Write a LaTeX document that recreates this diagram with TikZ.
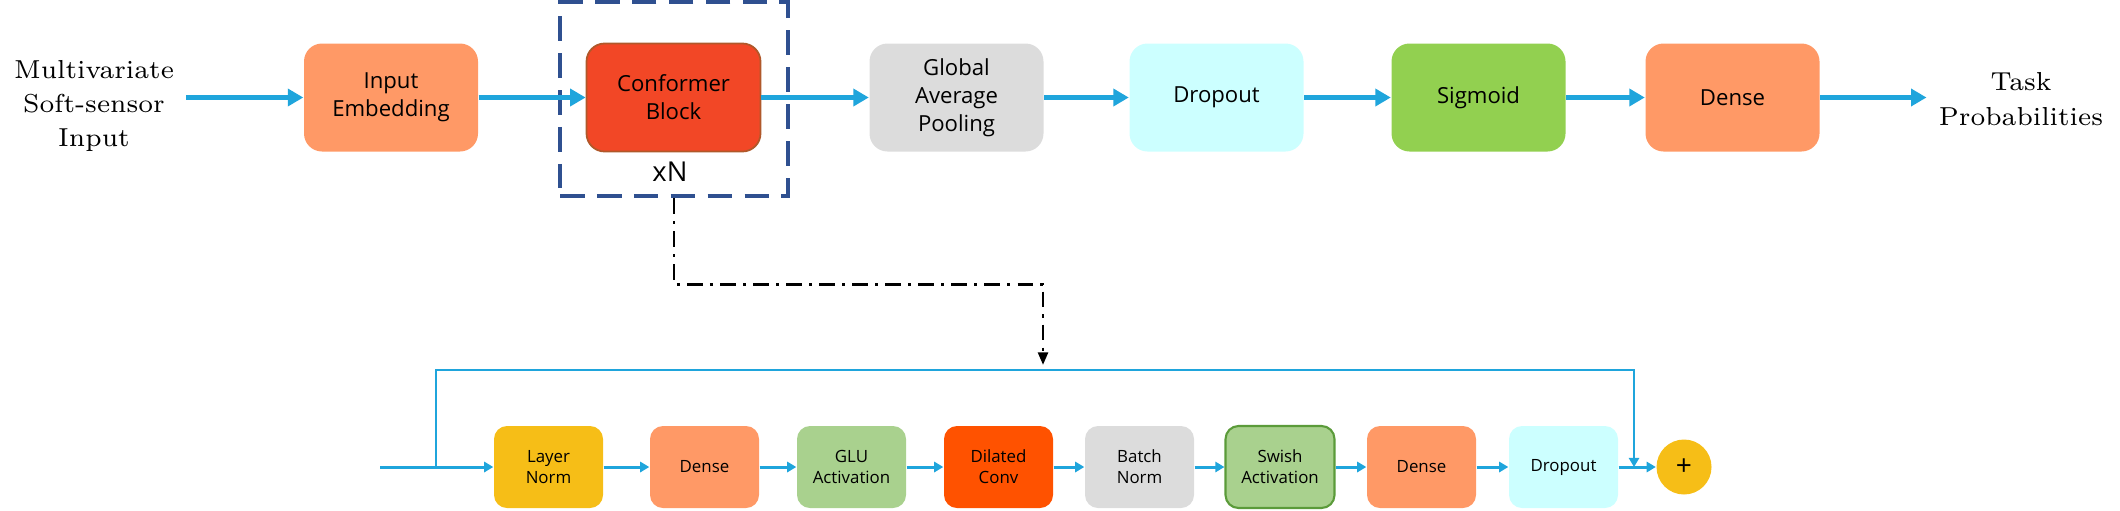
\documentclass[tikz,border=0pt]{standalone}
\usepackage{fontspec}
\newfontfamily\boxfont{Open Sans}
\usepackage{tikz}
\usetikzlibrary{arrows.meta}
\definecolor{flowblue}{HTML}{1FA5DC}
\definecolor{repblue}{HTML}{2F5090}
\definecolor{salmon}{HTML}{FF9966}
\definecolor{conred}{HTML}{F24726}
\definecolor{conedge}{HTML}{B0582A}
\definecolor{poolgrey}{HTML}{DCDCDC}
\definecolor{dropcyan}{HTML}{CCFFFF}
\definecolor{sigreen}{HTML}{92D050}
\definecolor{amber}{HTML}{F6BE17}
\definecolor{glugreen}{HTML}{A9D18E}
\definecolor{swishedge}{HTML}{5B9B3A}
\definecolor{dilred}{HTML}{FF5200}

\begin{document}
\begin{tikzpicture}[
    bigbox/.style={rounded corners=0.18cm, minimum width=1.74cm, minimum height=1.08cm,
      inner sep=0pt, align=center, font=\boxfont\fontsize{6.3}{7.9}\selectfont},
    smallbox/.style={rounded corners=0.13cm, minimum width=1.09cm, minimum height=0.82cm,
      inner sep=0pt, align=center, font=\boxfont\fontsize{4.8}{6}\selectfont},
    iotext/.style={align=center, font=\fontsize{7.4}{9.8}\selectfont},
    bigarrow/.style={draw=flowblue, line width=1.2pt, -{Triangle[length=4.4pt,width=4.8pt]}},
    smallarrow/.style={draw=flowblue, line width=0.85pt, -{Triangle[length=2.6pt,width=2.9pt]}},
    dashdot/.style={line width=0.8pt, dash pattern=on 4.5pt off 2pt on 0.9pt off 2pt,
      -{Triangle[length=3.6pt,width=2.8pt]}}
  ]
        \useasboundingbox (0,0) rectangle (21.2,5.1);
        % top row
        \node[iotext] (src) at (0.94,4.04) {Multivariate\\Soft-sensor\\Input};
        \node[bigbox,fill=salmon] (emb) at (3.91,4.125) {Input\\Embedding};
        \node[bigbox,fill=conred,draw=conedge,line width=0.5pt] (conf) at (6.735,4.125) {Conformer\\Block};
        \node[bigbox,fill=poolgrey] (gap) at (9.565,4.125) {Global\\Average\\Pooling};
        \node[bigbox,fill=dropcyan] (drop) at (12.165,4.125) {Dropout};
        \node[bigbox,fill=sigreen] (sig) at (14.785,4.125) {Sigmoid};
        \node[bigbox,fill=salmon] (dense) at (17.325,4.125) {Dense};
        \node[iotext] (out) at (20.21,4.11) {Task\\Probabilities};
        % repeated block
        \node[draw=repblue,line width=1.2pt,dash pattern=on 7pt off 3.5pt,
          minimum width=2.28cm,minimum height=1.94cm] (rep) at (6.74,4.11) {};
        \node[font=\boxfont\fontsize{7.8}{9}\selectfont] (xn) at (6.70,3.38) {xN};
        \draw[bigarrow] (src.east |- emb.west) -- (emb.west);
        \draw[bigarrow] (emb) -- (conf);
        \draw[bigarrow] (conf) -- (gap);
        \draw[bigarrow] (gap) -- (drop);
        \draw[bigarrow] (drop) -- (sig);
        \draw[bigarrow] (sig) -- (dense);
        \draw[bigarrow] (dense.east) -- (out.west |- dense.east);
        % bottom row, inside the block
        \node[smallbox,fill=amber] (ln) at (5.485,0.43) {Layer\\Norm};
        \node[smallbox,fill=salmon] (dn1) at (7.045,0.43) {Dense};
        \node[smallbox,fill=glugreen] (glu) at (8.515,0.43) {GLU\\Activation};
        \node[smallbox,fill=dilred] (dil) at (9.985,0.43) {Dilated\\Conv};
        \node[smallbox,fill=poolgrey] (bn) at (11.395,0.43) {Batch\\Norm};
        \node[smallbox,fill=glugreen,draw=swishedge,line width=0.6pt] (sw) at (12.80,0.43) {Swish\\Activation};
        \node[smallbox,fill=salmon] (dn2) at (14.215,0.43) {Dense};
        \node[smallbox,fill=dropcyan] (dp2) at (15.635,0.43) {Dropout};
        \node[circle,fill=amber,minimum size=0.55cm,inner sep=0pt,
          font=\boxfont\fontsize{8}{9}\selectfont] (plus) at (16.84,0.43) {+};
        \coordinate (sub) at (3.80,0.43);
        \coordinate (split) at (4.36,0.43);
        \coordinate (merge) at (16.34,0.43);
        \coordinate (zoomin) at (10.43,1.45);
        \draw[smallarrow] (sub) -- (ln);
        \draw[smallarrow] (ln) -- (dn1);
        \draw[smallarrow] (dn1) -- (glu);
        \draw[smallarrow] (glu) -- (dil);
        \draw[smallarrow] (dil) -- (bn);
        \draw[smallarrow] (bn) -- (sw);
        \draw[smallarrow] (sw) -- (dn2);
        \draw[smallarrow] (dn2) -- (dp2);
        \draw[smallarrow] (dp2) -- (plus);
        % residual path
        \draw[smallarrow,line width=0.75pt] (split) -- ++(0,0.97) -| (merge);
        % link from the block to its detail
        \draw[dashdot] (rep.south) -- ++(0,-0.86) -| (zoomin);
      \end{tikzpicture}
\end{document}
